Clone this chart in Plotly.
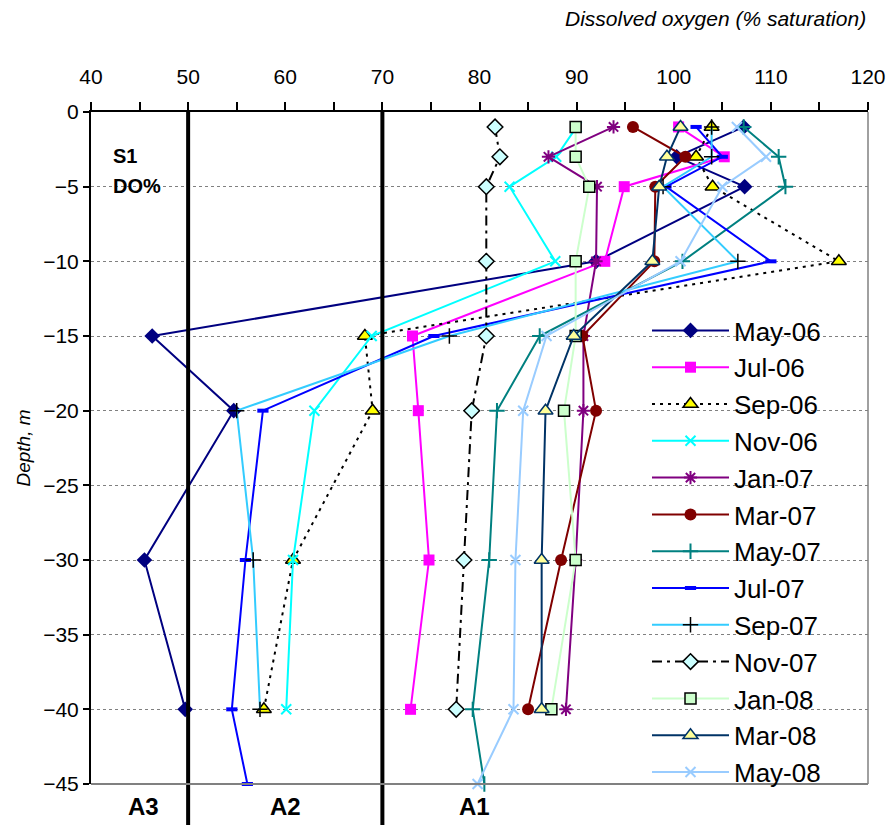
import plotly.graph_objects as go

depth8 = [-1, -3, -5, -10, -15, -20, -30, -40]
depth9 = [-1, -3, -5, -10, -15, -20, -30, -40, -45]

may06 = [107.2, 100.3, 107.3, 92.0, 46.3, 54.7, 45.5, 49.7]
jul06 = [100.5, 105.2, 94.9, 92.9, 73.1, 73.7, 74.8, 72.9]
sep06 = [103.9, 102.3, 104.0, 117.0, 68.2, 69.0, 60.8, 57.8]
nov06 = [90.0, 87.9, 83.1, 87.8, 68.9, 63.0, 60.8, 60.1]
jan07 = [93.8, 87.1, 92.1, 92.0, 90.7, 90.7, 89.9, 88.9]
mar07 = [95.8, 101.2, 98.1, 98.0, 90.6, 92.0, 88.4, 85.0]
may07 = [107.2, 110.8, 111.5, 100.9, 86.2, 81.8, 81.0, 79.3, 80.5]
jul07 = [102.3, 105.0, 99.2, 110.0, 75.3, 57.7, 55.9, 54.5, 56.1]
sep07 = [103.9, 103.9, 98.9, 106.6, 76.9, 55.0, 56.7, 57.4]
nov07 = [81.6, 82.1, 80.7, 80.7, 80.7, 79.2, 78.4, 77.6]
jan08 = [89.9, 89.9, 91.3, 89.9, 89.9, 88.7, 89.9, 87.4]
mar08 = [100.7, 99.3, 98.5, 97.8, 89.7, 86.8, 86.4, 86.4]
may08 = [106.5, 109.5, 105.0, 100.7, 86.9, 84.5, 83.7, 83.5, 79.8]

zone_lines = [50, 70]
zone_labels = ["A3", "A2", "A1"]
zone_label_x = [45.4, 60.0, 79.5]

FONT = "Arial, Liberation Sans, sans-serif"

series = [
    ("May-06", may06, depth8, dict(color="#000080", width=2),
     dict(symbol="diamond", size=12, color="#000080", line=dict(width=0))),
    ("Jul-06", jul06, depth8, dict(color="#FF00FF", width=2),
     dict(symbol="square", size=11, color="#FF00FF", line=dict(width=0))),
    ("Sep-06", sep06, depth8, dict(color="#000000", width=2, dash="3px,5px"),
     dict(symbol="triangle-up", size=13, color="#FFFF00", line=dict(width=1.5, color="#000000"))),
    ("Nov-06", nov06, depth8, dict(color="#00FFFF", width=2),
     dict(symbol="x-thin-open", size=10, color="#00FFFF", line=dict(width=2, color="#00FFFF"))),
    ("Jan-07", jan07, depth8, dict(color="#800080", width=2),
     dict(symbol="asterisk-open", size=11, color="#800080", line=dict(width=2, color="#800080"))),
    ("Mar-07", mar07, depth8, dict(color="#800000", width=2),
     dict(symbol="circle", size=12, color="#800000", line=dict(width=0))),
    ("May-07", may07, depth9, dict(color="#008080", width=2),
     dict(symbol="cross-thin-open", size=11, color="#008080", line=dict(width=2, color="#008080"))),
    ("Jul-07", jul07, depth9, dict(color="#0000FF", width=2),
     dict(symbol="line-ew-open", size=8, color="#0000FF", line=dict(width=4, color="#0000FF"))),
    ("Sep-07", sep07, depth8, dict(color="#33CCFF", width=2),
     dict(symbol="cross-thin-open", size=11, color="#000000", line=dict(width=1.5, color="#000000"))),
    ("Nov-07", nov07, depth8, dict(color="#000000", width=2, dash="10px,5px,3px,5px"),
     dict(symbol="diamond", size=12, color="#CCFFFF", line=dict(width=1.5, color="#000000"))),
    ("Jan-08", jan08, depth8, dict(color="#CCFFCC", width=2),
     dict(symbol="square", size=11, color="#CCFFCC", line=dict(width=1.5, color="#000000"))),
    ("Mar-08", mar08, depth8, dict(color="#003366", width=2),
     dict(symbol="triangle-up", size=13, color="#FFFF99", line=dict(width=1.5, color="#003366"))),
    ("May-08", may08, depth9, dict(color="#99CCFF", width=2),
     dict(symbol="x-thin-open", size=10, color="#99CCFF", line=dict(width=2, color="#99CCFF"))),
]

fig = go.Figure()
for name, xs, ys, ln, mk in series:
    fig.add_trace(go.Scatter(x=xs, y=ys, name=name, mode="lines+markers",
                             line=ln, marker=mk, cliponaxis=False))

# page has an 8px body offset; plot area on the page: x 91..868, y 112..784
OFF = 8
W, H = 880, 817
PL, PR, PT, PB = 91, 868, 112, 784
PW, PH = float(PR - PL), float(PB - PT)

def px_x(p):
    return (p - PL) / PW

def px_y(p):
    return 1 - (p - PT) / PH

shapes = []
shapes.append(dict(type="rect", xref="paper", yref="paper", x0=px_x(613), x1=1,
                   y0=0.003, y1=px_y(312), fillcolor="white", line=dict(width=0),
                   layer="between"))
for xv in zone_lines:
    shapes.append(dict(type="line", xref="x", yref="paper", x0=xv, x1=xv,
                       y0=1, y1=px_y(825), line=dict(color="black", width=4), layer="above"))
shapes.append(dict(type="line", xref="paper", yref="paper", x0=1, x1=1, y0=0, y1=1,
                   line=dict(color="#808080", width=1.5)))
shapes.append(dict(type="line", xref="paper", yref="paper", x0=0, x1=1, y0=0, y1=0,
                   line=dict(color="#808080", width=2)))

annotations = []
for lab, xv in zip(zone_labels, zone_label_x):
    annotations.append(dict(text="<b>" + lab + "</b>", x=xv, xref="x", y=px_y(806), yref="paper",
                            showarrow=False, font=dict(family=FONT, size=24, color="black"),
                            xanchor="center", yanchor="middle"))
annotations.append(dict(text="<b>S1</b>", x=px_x(111), xref="paper", y=px_y(156), yref="paper",
                        showarrow=False, font=dict(family=FONT, size=20, color="black"),
                        xanchor="left", yanchor="middle"))
annotations.append(dict(text="<b>DO%</b>", x=px_x(111), xref="paper", y=px_y(186), yref="paper",
                        showarrow=False, font=dict(family=FONT, size=20, color="black"),
                        xanchor="left", yanchor="middle"))
annotations.append(dict(text="<i>Dissolved oxygen (% saturation)</i>", x=1, xref="paper",
                        y=px_y(18), yref="paper", showarrow=False,
                        font=dict(family=FONT, size=21, color="black"),
                        xanchor="right", yanchor="middle"))

fig.update_layout(
    width=W, height=H,
    margin=dict(l=PL - OFF, r=W - (PR - OFF), t=PT - OFF, b=H - (PB - OFF), autoexpand=False),
    paper_bgcolor="white", plot_bgcolor="white",
    font=dict(family=FONT, color="black"),
    shapes=shapes, annotations=annotations,
    legend=dict(x=px_x(647), y=px_y(307), xanchor="left", yanchor="top",
                bgcolor="rgba(255,255,255,0)", borderwidth=0, itemwidth=77,
                font=dict(family=FONT, size=26, color="black"),
                tracegroupgap=0),
    xaxis=dict(range=[40, 120], side="top", dtick=10, tick0=40,
               showgrid=False, zeroline=False,
               showline=True, linecolor="black", linewidth=2,
               ticks="outside", ticklen=8, tickwidth=1.5, tickcolor="black",
               minor=dict(dtick=5, ticks="outside", ticklen=8, tickwidth=1.5, tickcolor="black"),
               tickfont=dict(family=FONT, size=21, color="black"),
               ticklabelstandoff=10),
    yaxis=dict(range=[-45, 0], dtick=5, tick0=0,
               showgrid=True, gridcolor="#808080", griddash="dot", gridwidth=1,
               zeroline=False,
               showline=True, linecolor="black", linewidth=2,
               ticks="outside", ticklen=6, tickwidth=1.5, tickcolor="black",
               tickfont=dict(family=FONT, size=21, color="black"),
               title=dict(text="<i>Depth, m</i>", font=dict(family=FONT, size=19, color="black"),
                          standoff=8)),
)

fig.write_html("out.html")
